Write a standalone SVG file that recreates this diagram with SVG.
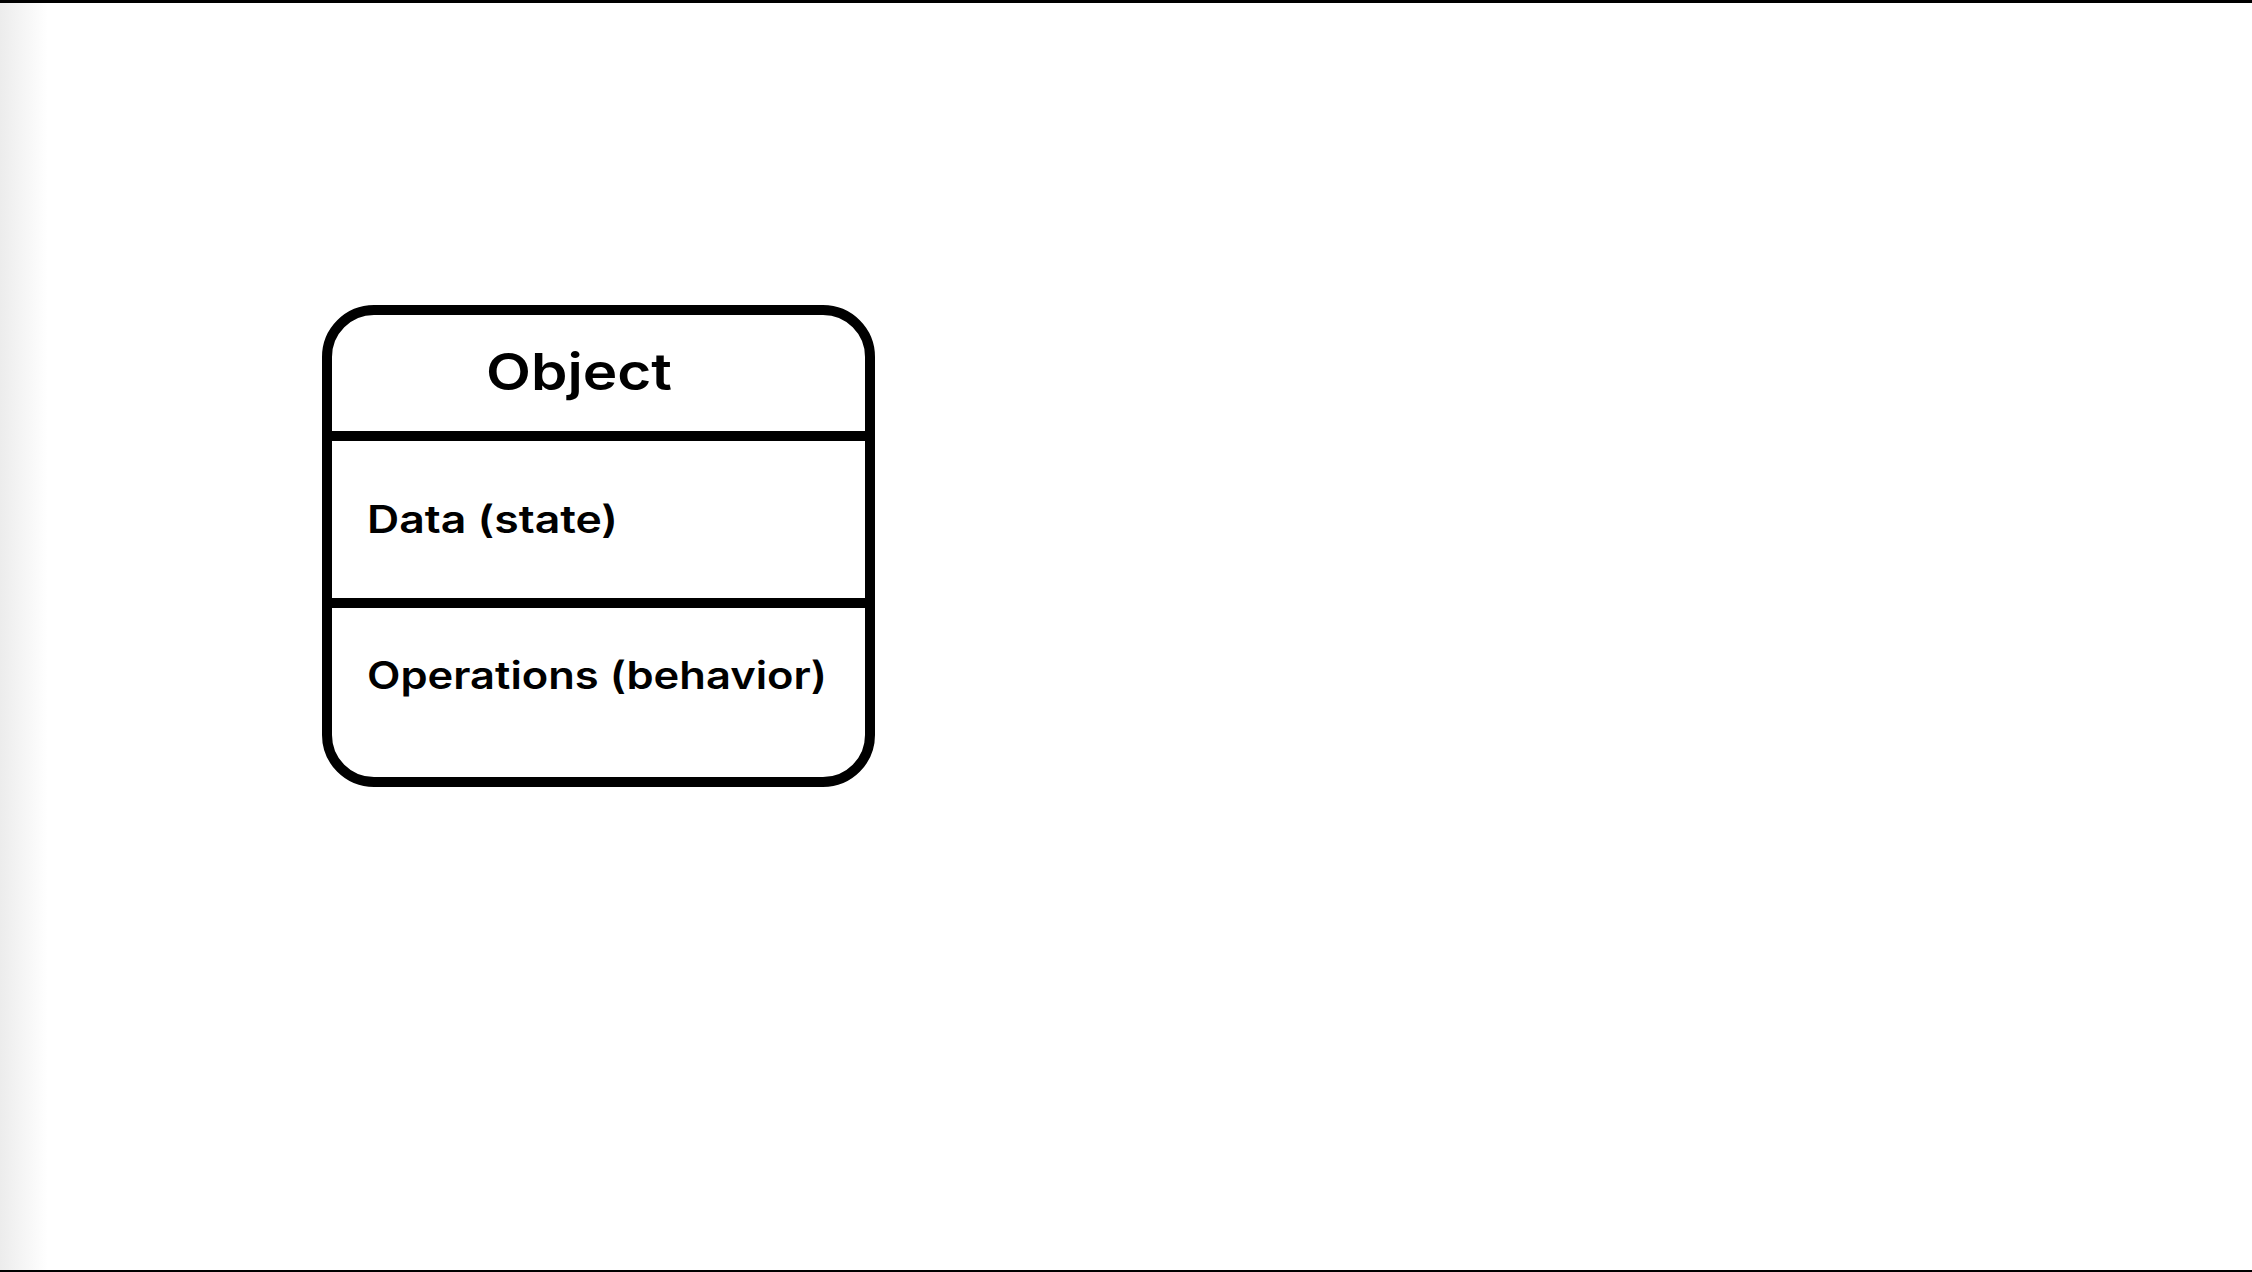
<svg xmlns="http://www.w3.org/2000/svg" width="2252" height="1272" viewBox="0 0 2252 1272">
  <defs>
    <linearGradient id="edge" x1="0" y1="0" x2="1" y2="0">
      <stop offset="0" stop-color="#ececec"/>
      <stop offset="1" stop-color="#ffffff"/>
    </linearGradient>
    <style>
      .box { fill: #ffffff; stroke: #000000; stroke-width: 10; }
      .div { stroke: #000000; stroke-width: 10; fill: none; }
      .title { font-family: Inter, "Liberation Sans", sans-serif; font-weight: 600; font-size: 51px; fill: #000000; }
      .item { font-family: Inter, "Liberation Sans", sans-serif; font-weight: 600; font-size: 38px; fill: #000000; }
    </style>
  </defs>
  <rect x="0" y="0" width="2252" height="1272" fill="#ffffff"/>
  <rect x="0" y="0" width="48" height="1272" fill="url(#edge)"/>
  <rect x="0" y="0" width="2252" height="3" fill="#000000"/>
  <rect x="0" y="1270" width="2252" height="2" fill="#000000"/>

  <g id="object-node">
    <rect class="box" x="327" y="310" width="543" height="472" rx="47" ry="47"/>
    <line class="div" x1="327" y1="436" x2="870" y2="436"/>
    <line class="div" x1="327" y1="603" x2="870" y2="603"/>
    <text class="title" x="486" y="390" textLength="186" lengthAdjust="spacingAndGlyphs">Object</text>
    <text class="item" x="367" y="533" textLength="251" lengthAdjust="spacingAndGlyphs">Data (state)</text>
    <text class="item" x="367" y="689" textLength="460" lengthAdjust="spacingAndGlyphs">Operations (behavior)</text>
  </g>

  <g id="connectors"></g>
</svg>
